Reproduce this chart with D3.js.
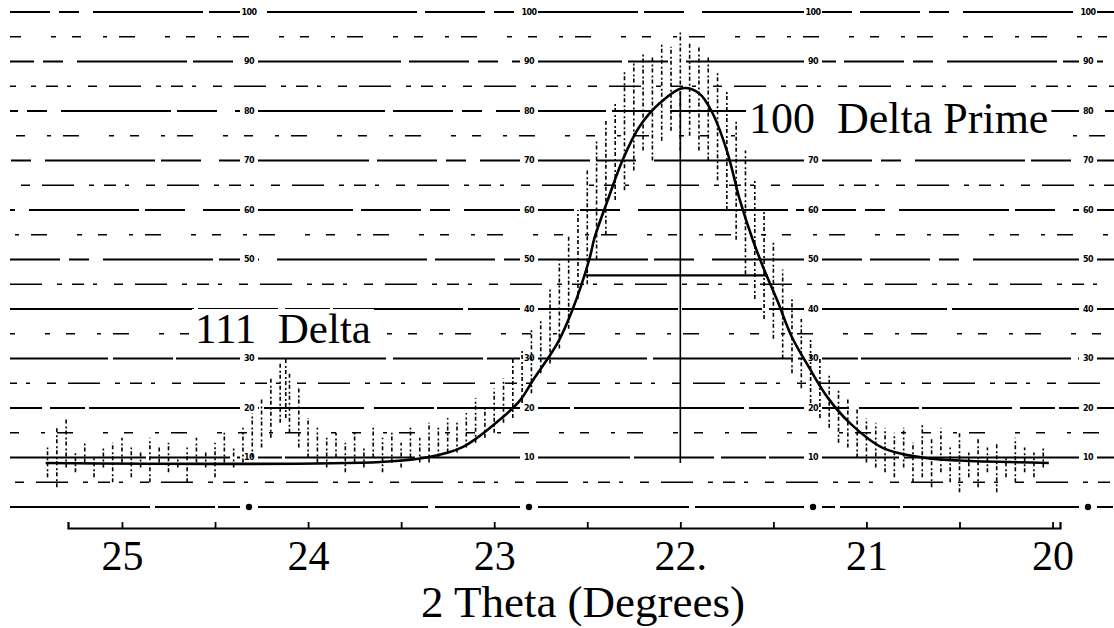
<!DOCTYPE html>
<html>
<head>
<meta charset="utf-8">
<script src="https://cdn.jsdelivr.net/npm/d3@7"></script>
<style>
  html, body { margin: 0; padding: 0; background: #fff; }
  svg { display: block; }
  text { font-family: "Liberation Serif", "Times New Roman", serif; fill: #000; }
</style>
</head>
<body>
<svg id="chart" width="1114" height="628"></svg>
<script>
// ---------------- DATA ----------------
// x-axis tick values (2 Theta, degrees) and their labels
const tickValues = [25, 24.5, 24, 23.5, 23, 22.5, 22, 21.5, 21, 20.5, 20];
const tickLabels = { 25: "25", 24: "24", 23: "23", 22: "22.", 21: "21", 20: "20" };

// chart-paper intensity levels (ruled lines) and the printed paper numbers
const paperLevels = [0, 5, 10, 15, 20, 25, 30, 35, 40, 45, 50, 55, 60, 65, 70, 75, 80, 85, 90, 95, 100];
const paperNumbers = [100, 90, 80, 70, 60, 50, 40, 30, 20, 10, 0];

// fitted profile: [2theta, intensity]
const fitTheta = [25.41, 23.61, 23.35, 23.17, 22.99, 22.86, 22.79, 22.66, 22.58, 22.49, 22.46, 22.39, 22.31, 22.22, 22.11, 21.99,
                  21.90, 21.83, 21.75, 21.68, 21.61, 21.55, 21.48, 21.40, 21.31, 21.21, 21.09, 20.91, 20.68, 20.50, 20.02];
const fitIntensity = [8.9, 9.1, 10.1, 12.1, 17.0, 21.6, 25.7, 33.1, 39.8, 49.9, 54.5, 62.0, 70.1, 76.8, 81.6, 84.6,
                      83.6, 79.8, 72.0, 62.0, 53.9, 48.0, 41.8, 34.3, 28.3, 22.2, 17.0, 11.9, 9.9, 9.4, 8.9];

// peak centre marker and half-height chord
const peakCentre = [22.0];
const peakTop = [84.0];
const halfHeight = [46.8];
const halfWidthEnds = [22.51, 21.53];

// raw scan counts: 2theta, low and high of each vertical stroke
const rawTheta = [25.40, 25.35, 25.30, 25.25, 25.20, 25.15, 25.10, 25.05, 25.00, 24.95, 24.90, 24.85, 24.80, 24.75, 24.70,
  24.65, 24.60, 24.55, 24.50, 24.45, 24.40, 24.35, 24.30, 24.25, 24.20, 24.15, 24.12, 24.10, 24.05, 24.00, 23.95, 23.90,
  23.85, 23.80, 23.75, 23.70, 23.65, 23.60, 23.55, 23.50, 23.45, 23.40, 23.35, 23.30, 23.25, 23.20, 23.15, 23.10, 23.05,
  23.00, 22.95, 22.90, 22.85, 22.80, 22.75, 22.70, 22.65, 22.60, 22.55, 22.50, 22.45, 22.40, 22.35, 22.30, 22.25, 22.20,
  22.15, 22.10, 22.05, 22.00, 21.95, 21.90, 21.85, 21.80, 21.75, 21.70, 21.65, 21.60, 21.55, 21.50, 21.45, 21.40, 21.35,
  21.30, 21.25, 21.20, 21.15, 21.10, 21.05, 21.00, 20.95, 20.90, 20.85, 20.80, 20.75, 20.70, 20.65, 20.60, 20.55, 20.50,
  20.45, 20.40, 20.35, 20.30, 20.25, 20.20, 20.15, 20.10, 20.05];
const rawLow = [6, 4, 8, 7, 9, 6, 8, 5, 9, 6, 8, 5, 9, 7, 8,
  5, 9, 8, 6, 9, 8, 9, 10, 12, 14, 17, 18, 15, 12, 10, 9, 8,
  10, 7, 9, 8, 10, 7, 9, 8, 10, 9, 9, 10, 11, 11, 12, 13, 14,
  15, 17, 18, 21, 23, 27, 29, 32, 36, 42, 45, 50, 55, 62, 64, 68, 72,
  70, 74, 76, 72, 75, 72, 70, 66, 60, 54, 47, 42, 38, 34, 30, 27, 24,
  21, 18, 16, 13, 12, 10, 9, 8, 7, 6, 8, 5, 6, 4, 7, 5, 3,
  6, 4, 7, 3, 6, 5, 7, 6, 8];
const rawHigh = [12, 16, 18, 11, 13, 10, 12, 13, 14, 12, 11, 14, 12, 13, 10,
  12, 14, 11, 13, 15, 12, 16, 19, 22, 26, 29, 30, 27, 24, 18, 16, 14,
  15, 13, 15, 12, 16, 14, 15, 13, 16, 14, 17, 16, 18, 17, 19, 22, 20,
  24, 26, 30, 32, 36, 38, 44, 50, 55, 60, 68, 74, 78, 82, 88, 90, 92,
  91, 94, 93, 96, 94, 93, 91, 88, 84, 78, 72, 66, 60, 54, 48, 42, 38,
  34, 30, 27, 24, 22, 20, 18, 17, 16, 15, 16, 13, 17, 14, 16, 12, 15,
  11, 14, 12, 13, 10, 14, 12, 11, 12];

// ---------------- CHART ----------------
const svg = d3.select("#chart");
const W = 1114;

const x = d3.scaleLinear().domain([25.29, 19.96]).range([68, 1060]);
const y = d3.scaleLinear().domain([0, 100]).range([507, 12]);

const labelSpecs = [
  { txt: "100\u00a0 Delta Prime", x: 749, y: 133, size: 44 },
  { txt: "111\u00a0 Delta", x: 195, y: 343, size: 43 }
];

// chart-paper ruling
const majorDash = ["140 5 60 3 210 7 90 4 160 6", "90 8 35 4 170 5 100 10 60 3", "210 4 80 7 45 3 130 5",
                   "60 9 20 14 110 6 40 18 150 8", "40 14 18 22 70 10 30 35 90 12"];
const minorDash = ["7 11 3 15 26 9 4 21 14 13", "12 9 4 17 9 12 32 15 5 10", "20 13 6 9 3 18 40 11", "5 16 9 22 4 12 16 30"];
const grid = svg.append("g");
paperLevels.forEach((lv, i) => {
  const major = lv % 10 === 0;
  let dash;
  if (major) dash = lv >= 50 ? majorDash[3 + (i % 2)] : majorDash[i % 3];
  else dash = minorDash[i % 4];
  grid.append("line")
    .attr("x1", 10).attr("x2", W)
    .attr("y1", y(lv)).attr("y2", y(lv))
    .attr("stroke", "#000")
    .attr("stroke-width", major ? 2.2 : 1.7)
    .attr("stroke-dasharray", dash)
    .attr("stroke-dashoffset", (i * 37) % 90);
});
const numLayer = svg.append("g");

// x axis
const axis = d3.axisBottom(x)
  .tickValues(tickValues)
  .tickSize(-6)
  .tickFormat(d => tickLabels[d] || "");
const ax = svg.append("g").attr("transform", "translate(0,528)").call(axis);
ax.select(".domain").attr("stroke", "#000").attr("stroke-width", 2.2);
ax.selectAll(".tick line").attr("stroke", "#000").attr("stroke-width", 1.8);
ax.selectAll(".tick text")
  .attr("y", 42).attr("dy", 0)
  .style("font-family", "Liberation Serif").style("font-size", "42px").attr("fill", "#000");

// axis title
svg.append("text").attr("x", 421).attr("y", 617)
  .style("font-size", "45px").text("2 Theta (Degrees)");

// raw scan strokes
svg.append("g").selectAll("line")
  .data(rawTheta.map((t, i) => [t, rawLow[i], rawHigh[i]]))
  .join("line")
  .attr("x1", d => x(d[0])).attr("x2", d => x(d[0]))
  .attr("y1", d => y(d[1])).attr("y2", d => y(d[2]))
  .attr("stroke", "#000").attr("stroke-width", 1.6)
  .attr("stroke-dasharray", "4 2 2 3");

// peak centre & half-height chord
svg.append("line")
  .attr("x1", x(peakCentre[0])).attr("x2", x(peakCentre[0]))
  .attr("y1", y(peakTop[0])).attr("y2", y(fitIntensity[0]))
  .attr("stroke", "#000").attr("stroke-width", 1.6);
svg.append("line")
  .attr("x1", x(halfWidthEnds[0])).attr("x2", x(halfWidthEnds[1]))
  .attr("y1", y(halfHeight[0])).attr("y2", y(halfHeight[0]))
  .attr("stroke", "#000").attr("stroke-width", 2.2);

// fitted curve
const fit = fitTheta.map((t, i) => [t, fitIntensity[i]]);
svg.append("path")
  .datum(fit)
  .attr("fill", "none").attr("stroke", "#000").attr("stroke-width", 2.6)
  .attr("d", d3.line().x(d => x(d[0])).y(d => y(d[1])).curve(d3.curveCatmullRom.alpha(0.5)));

// peak labels with paper-white backing
const boxes = [];
labelSpecs.forEach(s => {
  const g = svg.append("g");
  const r = g.append("rect").attr("fill", "#fff");
  const t = g.append("text").attr("x", s.x).attr("y", s.y).style("font-size", s.size + "px").text(s.txt);
  const b = t.node().getBBox();
  r.attr("x", b.x - 3).attr("y", b.y + 4).attr("width", b.width + 6).attr("height", b.height - 8);
  boxes.push(b);
});

// printed paper numbers on the ruling (hidden where a label covers the paper)
const paperNumX = [249, 529, 813, 1088];
paperNumbers.forEach(n => {
  paperNumX.forEach(px => {
    const cy = y(n);
    const hidden = boxes.some(b => px + 9 > b.x - 3 && px - 9 < b.x + b.width + 3 && cy + 5 > b.y && cy - 5 < b.y + b.height);
    if (hidden) return;
    numLayer.append("rect").attr("x", px - 9).attr("y", cy - 4).attr("width", 18).attr("height", 8).attr("fill", "#fff");
    if (n === 0) {
      numLayer.append("circle").attr("cx", px).attr("cy", cy).attr("r", 3.2).attr("fill", "#000");
    } else {
      numLayer.append("text").attr("x", px).attr("y", cy).attr("dy", "0.35em")
        .attr("text-anchor", "middle").style("font-family", "DejaVu Sans").style("font-weight", "bold")
        .style("font-size", "8px").style("letter-spacing", "-0.6px").text(n);
    }
  });
});
</script>
</body>
</html>
